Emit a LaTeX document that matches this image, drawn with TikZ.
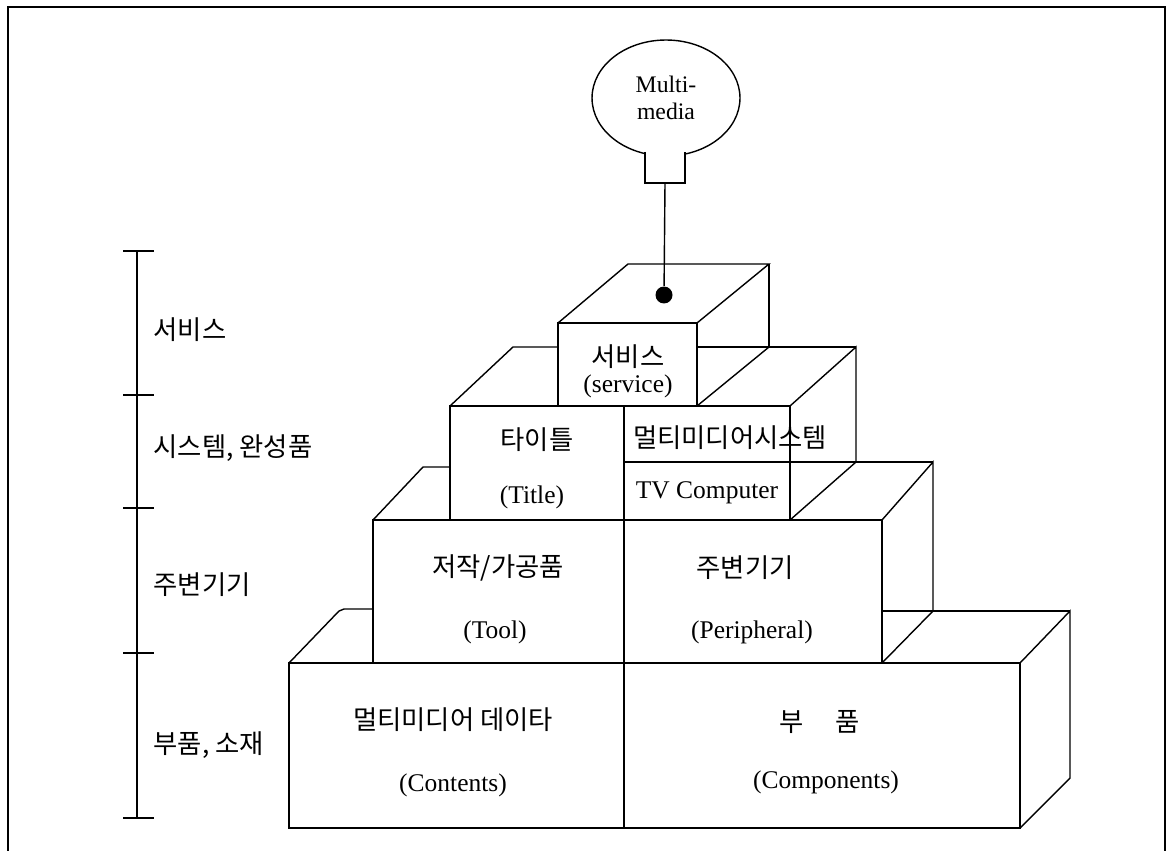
\documentclass[tikz,border=0pt]{standalone}
\usepackage{fontspec}
\setmainfont{Liberation Serif}
\newfontfamily\kr{Noto Sans CJK KR}
\usepackage{tikz}
\usetikzlibrary{shapes.geometric}

\begin{document}
\begin{tikzpicture}[x=0.02cm,y=-0.02cm,line width=0.8pt]
		\useasboundingbox (0,0) rectangle (1169,851);
		\tikzstyle{kor}=[font=\kr\fontsize{15}{18}\selectfont,inner sep=0pt]
		\tikzstyle{eng}=[font=\fontsize{14.5}{17}\selectfont,inner sep=0pt]
		\tikzstyle{pin}=[circle,fill=black,minimum size=0.34cm,inner sep=0pt]
		\draw (8,851) -- (8,7) -- (1165,7) -- (1165,851);
		\draw (137,251) -- (137,818);
		\foreach \y in {251,395,508,653,818}{
			\draw (123,\y) -- (154,\y);
		}
		\node[kor,anchor=west] (lv_1) at (153,330) {서비스};
		\node[kor,anchor=west] (lv_2) at (153,448) {시스템, 완성품};
		\node[kor,anchor=west] (lv_3) at (153,585) {주변기기};
		\node[kor,anchor=west] (lv_4) at (153,745) {부품, 소재};
		% balloon
		\node[ellipse,draw,minimum width=2.96cm,minimum height=2.32cm,inner sep=0pt,align=center,font=\fontsize{13.5}{15.5}\selectfont] (mm) at (666,98) {Multi-\\media};
		\fill[white] (646,148) rectangle (684,160);
		\draw (645,152) -- (645,183) -- (685,183) -- (685,152);
		\coordinate (neck) at (665,183);
		\node[pin] (dot) at (664,295) {};
		\draw (neck) -- (dot);
		% service
		\draw (558,323) rectangle (697,406);
		\draw (558,323) -- (628,264) -- (769,264) -- (697,323);
		\draw (769,264) -- (769,347);
		\draw (697,406) -- (769,347);
		% system
		\draw (450,406) rectangle (624,520);
		\draw (624,406) rectangle (790,520);
		\draw (624,462) -- (933,462);
		\draw (450,406) -- (513,347) -- (558,347);
		\draw (697,347) -- (856,347);
		\draw (790,406) -- (856,347) -- (856,462);
		\draw (790,520) -- (856,462);
		% peripheral
		\draw (373,520) rectangle (882,663);
		\draw (624,406) -- (624,828);
		\draw (373,520) -- (423,467) -- (450,467);
		\draw (882,520) -- (933,462) -- (933,611);
		\draw (882,663) -- (933,611);
		% components
		\draw (289,663) rectangle (1020,828);
		\draw (289,663) -- (339,611) -- (344,609) -- (373,609);
		\draw (883,611) -- (1070,611);
		\draw (1020,663) -- (1070,611) -- (1070,778) -- (1020,828);
		\node[kor] (b_1) at (628,357) {서비스};
		\node[eng] (b_2) at (628,386) {(service)};
		\node[kor] (b_3) at (537,440) {타이틀};
		\node[eng] (b_4) at (532,497) {(Title)};
		\node[kor] (b_5) at (730,438) {멀티미디어시스템};
		\node[eng] (b_6) at (707,493) {TV Computer};
		\node[kor] (b_7) at (498,568) {저작/가공품};
		\node[eng] (b_8) at (495,632) {(Tool)};
		\node[kor] (b_9) at (745,568) {주변기기};
		\node[eng] (b_10) at (752,632) {(Peripheral)};
		\node[kor] (b_11) at (453,720) {멀티미디어 데이타};
		\node[eng] (b_12) at (453,785) {(Contents)};
		\node[kor] (b_13) at (820,722) {부\hspace{1.2em}품};
		\node[eng] (b_14) at (826,782) {(Components)};
	\end{tikzpicture}
\end{document}
